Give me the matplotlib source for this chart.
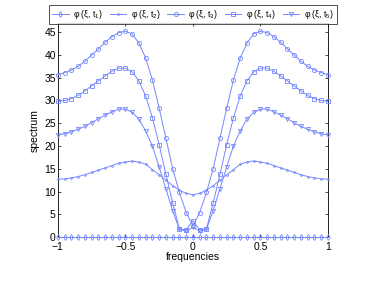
import numpy as np
import matplotlib
matplotlib.use('Agg')
import matplotlib.pyplot as plt

# frequencies
freqs = np.round(np.arange(-1, 1.0001, 0.05), 2)

# spectrum values
t1 = [0.0] * 41
t2 = [12.7, 12.8, 13.0, 13.3, 13.7, 14.2, 14.7, 15.2, 15.7, 16.2, 16.5,
      16.7, 16.5, 16.0, 14.8, 13.7, 12.5, 11.3, 10.3, 9.6, 9.3,
      9.6, 10.3, 11.3, 12.5, 13.7, 14.8, 16.0, 16.5, 16.7, 16.5,
      16.2, 15.7, 15.2, 14.7, 14.2, 13.7, 13.3, 13.0, 12.8, 12.7]
t3 = [35.7, 36.1, 36.7, 37.5, 38.6, 40.0, 41.3, 42.8, 44.0, 44.9, 45.2,
      44.6, 42.6, 39.3, 34.5, 28.3, 21.7, 15.0, 9.8, 5.4, 2.5,
      5.4, 9.8, 15.0, 21.7, 28.3, 34.5, 39.3, 42.6, 44.6, 45.2,
      44.9, 44.0, 42.8, 41.3, 40.0, 38.6, 37.5, 36.7, 36.1, 35.7]
t4 = [29.8, 30.0, 30.4, 31.1, 32.1, 33.2, 34.3, 35.4, 36.4, 37.1, 37.1,
      36.3, 34.3, 31.0, 26.2, 20.3, 13.8, 7.5, 1.8, 1.6, 3.6,
      1.6, 1.8, 7.5, 13.8, 20.3, 26.2, 31.0, 34.3, 36.3, 37.1,
      37.1, 36.4, 35.4, 34.3, 33.2, 32.1, 31.1, 30.4, 30.0, 29.8]
t5 = [22.4, 22.7, 23.1, 23.7, 24.3, 25.1, 26.0, 26.8, 27.5, 28.1, 28.1,
      27.4, 25.9, 23.3, 20.0, 15.4, 10.6, 5.8, 1.7, 1.3, 2.2,
      1.3, 1.7, 5.8, 10.6, 15.4, 20.0, 23.3, 25.9, 27.4, 28.1,
      28.1, 27.5, 26.8, 26.0, 25.1, 24.3, 23.7, 23.1, 22.7, 22.4]

labels = ['\u03c6 (\u03be, t$_1$)', '\u03c6 (\u03be, t$_2$)',
          '\u03c6 (\u03be, t$_3$)', '\u03c6 (\u03be, t$_4$)',
          '\u03c6 (\u03be, t$_5$)']
markers = ['d', '.', 'o', 's', 'v']

col = '#7487ff'
plt.rcParams['font.family'] = ['Liberation Sans', 'DejaVu Sans']
plt.rcParams['mathtext.fontset'] = 'custom'
plt.rcParams['mathtext.rm'] = 'Liberation Sans'
plt.rcParams['mathtext.it'] = 'Liberation Sans'

fig = plt.figure(figsize=(3.71, 2.92), dpi=100)
ax = fig.add_axes([0.156, 0.188, 0.728, 0.733])

for ys, m, lab in zip([t1, t2, t3, t4, t5], markers, labels):
    ms = 2.5 if m == '.' else 3.0
    ax.plot(freqs, ys, color=col, lw=0.7, marker=m, ms=ms,
            mfc='none', mec=col, mew=0.6, label=lab, clip_on=False, zorder=3)

ax.set_xlim(-1, 1)
ax.set_ylim(0, 47)
ax.set_xticks([-1, -0.5, 0, 0.5, 1])
ax.set_xticklabels(['\u22121', '\u22120.5', '0', '0.5', '1'])
ax.set_yticks(range(0, 50, 5))
ax.tick_params(direction='in', top=True, right=True, labelsize=7.5,
               length=2.5, width=0.5)
ax.tick_params(axis='x', pad=3.2)
ax.tick_params(axis='y', pad=1.5)
for s in ax.spines.values():
    s.set_linewidth(0.6)
ax.set_xlabel('frequencies', fontsize=7.5, labelpad=0)
ax.set_ylabel('spectrum', fontsize=7.5, labelpad=3)

leg = ax.legend(loc='lower center', bbox_to_anchor=(0.5, 0.995), ncol=5,
                fontsize=6.2, frameon=True, fancybox=False, handlelength=1.9,
                columnspacing=0.75, handletextpad=0.55, borderpad=0.35,
                borderaxespad=0)
leg.get_frame().set_edgecolor('black')
leg.get_frame().set_linewidth(0.6)

fig.savefig('out.png', dpi=100)
